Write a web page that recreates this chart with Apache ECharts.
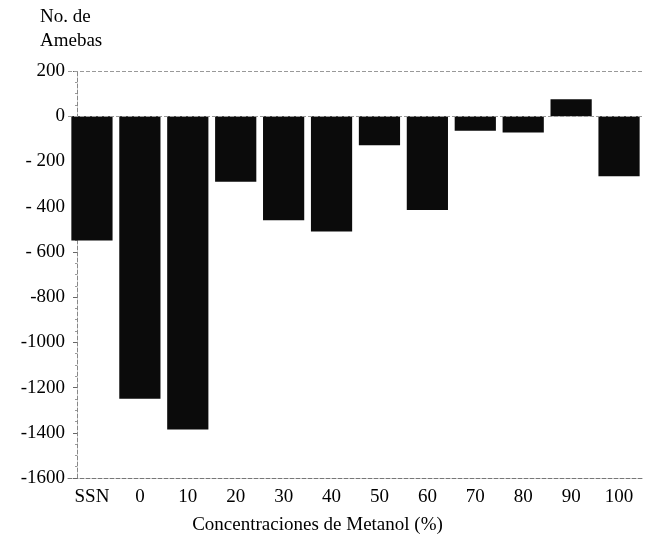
<!DOCTYPE html>
<html lang="es">
<head>
    <meta charset="UTF-8">
    <script src="https://cdn.jsdelivr.net/npm/echarts@6/dist/echarts.min.js"></script>
    <title>Amebas</title>
    <style>
        body { margin: 0; background: #fff; }
    </style>
</head>
<body>
<div id="main" style="width: 652px;height:543px;"></div>
<script type="text/javascript">
    // categorias del eje x
    var categorias = ['SSN', '0', '10', '20', '30', '40', '50', '60', '70', '80', '90', '100'];
    // No. de amebas
    var amebas = [-550, -1250, -1385, -290, -460, -510, -128, -415, -64, -72, 75, -265];
    // etiquetas del eje y
    var valoresY = [200, 0, -200, -400, -600, -800, -1000, -1200, -1400, -1600];
    var etiquetasY = ['200', '0', '- 200', '- 400', '- 600', '-800', '-1000', '-1200', '-1400', '-1600'];
    var lineasRef = [0, 200];

    var fuente = 'Liberation Serif';
    var myChart = echarts.init(document.getElementById('main'));

    var option = {
        backgroundColor: '#fff',
        title: {
            text: 'No. de\nAmebas',
            left: 35,
            top: 0,
            textStyle: {
                fontFamily: fuente,
                fontSize: 19,
                fontWeight: 'normal',
                lineHeight: 24,
                color: '#000'
            }
        },
        grid: {
            left: 68,
            right: 9,
            top: 71,
            bottom: 65
        },
        xAxis: {
            type: 'category',
            data: categorias,
            name: 'Concentraciones de Metanol (%)',
            nameLocation: 'middle',
            nameGap: 38,
            nameTextStyle: { fontFamily: fuente, fontSize: 19, color: '#000', padding: [0, 76, 0, 0] },
            axisLine: { onZero: false, lineStyle: { color: '#777', type: 'dashed', width: 1 } },
            axisTick: { show: false },
            axisLabel: { fontFamily: fuente, fontSize: 19, color: '#000', margin: 10 }
        },
        yAxis: {
            type: 'value',
            min: -1600,
            max: 200,
            interval: 200,
            offset: -9,
            axisLine: { show: true, lineStyle: { color: '#888', type: 'dashed', width: 1 } },
            axisTick: { show: true, length: 4, lineStyle: { color: '#666' } },
            minorTick: { show: true, splitNumber: 4, length: 2, lineStyle: { color: '#999' } },
            splitLine: { show: false },
            axisLabel: {
                fontFamily: fuente,
                fontSize: 19,
                color: '#000',
                margin: 12,
                formatter: function (v) {
                    var i = valoresY.indexOf(v);
                    return i >= 0 ? etiquetasY[i] : '';
                }
            }
        },
        series: [{
            name: 'Amebas',
            type: 'bar',
            data: amebas,
            barCategoryGap: '14%',
            itemStyle: { color: '#0b0b0b' },
            markLine: {
                silent: true,
                symbol: 'none',
                label: { show: false },
                lineStyle: { color: '#999', type: 'dashed', width: 1 },
                data: lineasRef.map(function (v) { return { yAxis: v }; })
            }
        }]
    };

    myChart.setOption(option);
</script>
</body>
</html>
